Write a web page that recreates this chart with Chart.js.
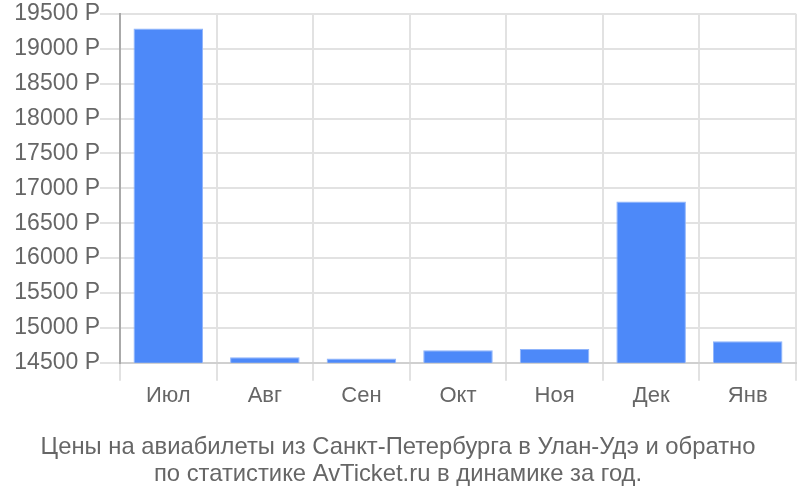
<!doctype html>
<html>

<head>
  <script src="https://cdn.jsdelivr.net/npm/chart.js@4/dist/chart.umd.min.js"></script>
  <style>
    html, body { margin: 0; padding: 0; background: #fff; }
    #wrap { width: 800px; height: 500px; }
  </style>
</head>

<body>
  <div id="wrap">
    <canvas id="canvas"></canvas>
  </div>
  <script>
    const months = ['Июл', 'Авг', 'Сен', 'Окт', 'Ноя', 'Дек', 'Янв'];
    const prices = [19290, 14582, 14563, 14680, 14700, 16810, 14810];
    const titleLines = [
      'Цены на авиабилеты из Санкт-Петербурга в Улан-Удэ и обратно',
      'по статистике AvTicket.ru в динамике за год.'
    ];

    new Chart(document.getElementById('canvas').getContext('2d'), {
      type: 'bar',
      data: {
        labels: months,
        datasets: [{
          data: prices,
          backgroundColor: '#4d89f9',
          borderColor: '#8fb4fb',
          borderWidth: 1
        }]
      },
      options: {
        responsive: true,
        maintainAspectRatio: false,
        animation: false,
        layout: {
          padding: { top: 6, right: 4, left: 0, bottom: 12 }
        },
        scales: {
          x: {
            grid: { color: '#e2e2e2', lineWidth: 2, tickLength: 18 },
            border: { color: '#d0d0d0', width: 2 },
            ticks: {
              color: '#666',
              padding: 2,
              font: { family: 'Liberation Sans, Arial, sans-serif', size: 22 }
            }
          },
          y: {
            min: 14500,
            max: 19500,
            afterFit: (s) => { s.width = 120; },
            grid: { color: '#e2e2e2', lineWidth: 2, tickLength: 20 },
            border: { color: '#aaaaaa', width: 2 },
            ticks: {
              stepSize: 500,
              color: '#666',
              padding: 0,
              font: { family: 'Liberation Sans, Arial, sans-serif', size: 23 },
              callback: (v) => v + ' Р'
            }
          }
        },
        plugins: {
          legend: { display: false },
          tooltip: { enabled: false },
          title: {
            display: true,
            position: 'bottom',
            text: titleLines,
            color: '#666',
            padding: { top: 22, bottom: 0 },
            font: { family: 'Liberation Sans, sans-serif', size: 23.8, weight: 'normal', lineHeight: 1.15 }
          }
        }
      }
    });
  </script>
</body>

</html>
